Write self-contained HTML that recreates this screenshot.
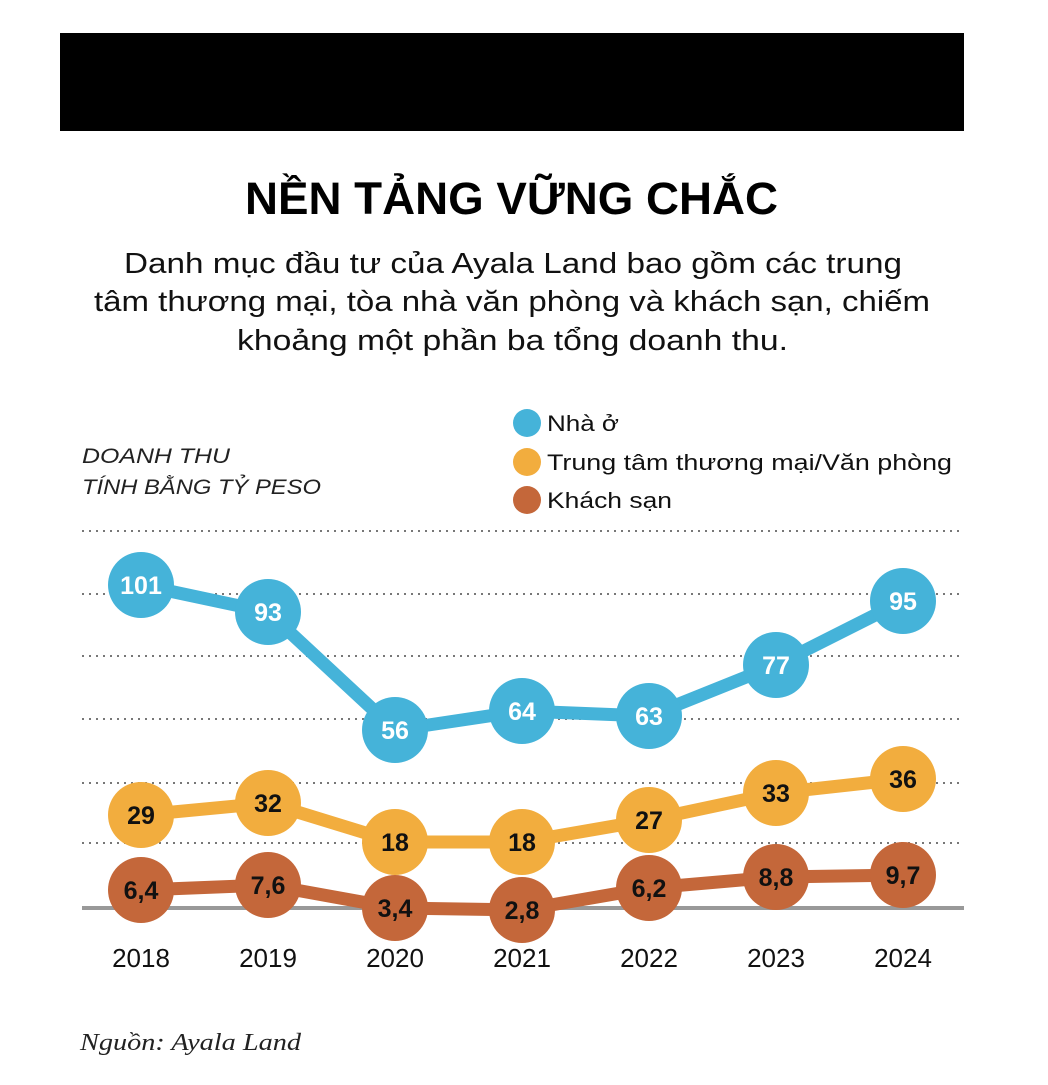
<!DOCTYPE html>
<html><head><meta charset="utf-8"><style>
body{margin:0;background:#fff;width:1048px;height:1080px;overflow:hidden;font-family:"Liberation Sans",sans-serif}
</style></head><body>
<svg width="1048" height="1080" xmlns="http://www.w3.org/2000/svg" font-family="Liberation Sans, sans-serif">
<rect x="60" y="33" width="904" height="98" fill="#000"/>
<text x="245" y="214" textLength="533" lengthAdjust="spacingAndGlyphs" font-size="45" font-weight="bold" fill="#000">NỀN TẢNG VỮNG CHẮC</text>
<g font-size="29" fill="#111">
<text x="124" y="273" textLength="778" lengthAdjust="spacingAndGlyphs">Danh mục đầu tư của Ayala Land bao gồm các trung</text>
<text x="94" y="311" textLength="836" lengthAdjust="spacingAndGlyphs">tâm thương mại, tòa nhà văn phòng và khách sạn, chiếm</text>
<text x="237" y="350" textLength="551" lengthAdjust="spacingAndGlyphs">khoảng một phần ba tổng doanh thu.</text>
</g>
<g font-size="21" font-style="italic" fill="#222">
<text x="82" y="463" textLength="148" lengthAdjust="spacingAndGlyphs">DOANH THU</text>
<text x="82" y="494" textLength="239" lengthAdjust="spacingAndGlyphs">TÍNH BẰNG TỶ PESO</text>
</g>
<circle cx="527" cy="423" r="14" fill="#45B3D9"/>
<circle cx="527" cy="462" r="14" fill="#F2AD3E"/>
<circle cx="527" cy="500" r="14" fill="#C4673A"/>
<g font-size="22" fill="#111">
<text x="547" y="431" textLength="72" lengthAdjust="spacingAndGlyphs">Nhà ở</text>
<text x="547" y="470" textLength="405" lengthAdjust="spacingAndGlyphs">Trung tâm thương mại/Văn phòng</text>
<text x="547" y="508" textLength="125" lengthAdjust="spacingAndGlyphs">Khách sạn</text>
</g>
<g stroke="#777" stroke-width="2" stroke-dasharray="2 5">
<line x1="82" y1="531" x2="964" y2="531"/>
<line x1="82" y1="594" x2="964" y2="594"/>
<line x1="82" y1="656" x2="964" y2="656"/>
<line x1="82" y1="719" x2="964" y2="719"/>
<line x1="82" y1="783" x2="964" y2="783"/>
<line x1="82" y1="843" x2="964" y2="843"/>
</g>
<line x1="82" y1="908" x2="964" y2="908" stroke="#999" stroke-width="4"/>
<g fill="none" stroke-width="13" stroke-linejoin="round">
<polyline stroke="#45B3D9" points="141,585 268,612 395,730 522,711 649,716 776,665 903,601"/>
<polyline stroke="#F2AD3E" points="141,815 268,803 395,842 522,842 649,820 776,793 903,779"/>
<polyline stroke="#C4673A" points="141,890 268,885 395,908 522,910 649,888 776,877 903,875"/>
</g>
<g fill="#45B3D9">
<circle cx="141" cy="585" r="33"/><circle cx="268" cy="612" r="33"/><circle cx="395" cy="730" r="33"/><circle cx="522" cy="711" r="33"/><circle cx="649" cy="716" r="33"/><circle cx="776" cy="665" r="33"/><circle cx="903" cy="601" r="33"/>
</g>
<g fill="#F2AD3E">
<circle cx="141" cy="815" r="33"/><circle cx="268" cy="803" r="33"/><circle cx="395" cy="842" r="33"/><circle cx="522" cy="842" r="33"/><circle cx="649" cy="820" r="33"/><circle cx="776" cy="793" r="33"/><circle cx="903" cy="779" r="33"/>
</g>
<g fill="#C4673A">
<circle cx="141" cy="890" r="33"/><circle cx="268" cy="885" r="33"/><circle cx="395" cy="908" r="33"/><circle cx="522" cy="910" r="33"/><circle cx="649" cy="888" r="33"/><circle cx="776" cy="877" r="33"/><circle cx="903" cy="875" r="33"/>
</g>
<g font-size="25" font-weight="bold" text-anchor="middle" fill="#fff">
<text x="141" y="594">101</text><text x="268" y="621">93</text><text x="395" y="739">56</text><text x="522" y="720">64</text><text x="649" y="725">63</text><text x="776" y="674">77</text><text x="903" y="610">95</text>
</g>
<g font-size="25" font-weight="bold" text-anchor="middle" fill="#111">
<text x="141" y="824">29</text><text x="268" y="812">32</text><text x="395" y="851">18</text><text x="522" y="851">18</text><text x="649" y="829">27</text><text x="776" y="802">33</text><text x="903" y="788">36</text>
<text x="141" y="899">6,4</text><text x="268" y="894">7,6</text><text x="395" y="917">3,4</text><text x="522" y="919">2,8</text><text x="649" y="897">6,2</text><text x="776" y="886">8,8</text><text x="903" y="884">9,7</text>
</g>
<g font-size="26" text-anchor="middle" fill="#111">
<text x="141" y="967">2018</text><text x="268" y="967">2019</text><text x="395" y="967">2020</text><text x="522" y="967">2021</text><text x="649" y="967">2022</text><text x="776" y="967">2023</text><text x="903" y="967">2024</text>
</g>
<text x="80" y="1050" textLength="221" lengthAdjust="spacingAndGlyphs" font-family="Liberation Serif, serif" font-style="italic" font-size="24" fill="#222">Nguồn: Ayala Land</text>
</svg>
</body></html>
